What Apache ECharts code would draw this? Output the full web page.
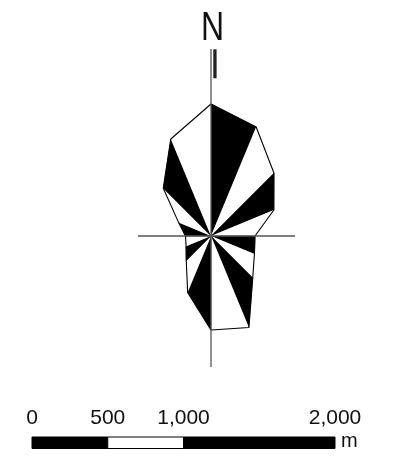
<!DOCTYPE html>
<html><head><meta charset="utf-8">
<style>html,body{margin:0;padding:0;background:#fff}#c{width:405px;height:459px}</style>
<script src="https://cdn.jsdelivr.net/npm/echarts@6/dist/echarts.min.js"></script>
</head><body><div id="c"></div>
<script>
// Rose diagram: direction (degrees clockwise from north) and petal length
const directions = [0, 22.5, 45, 67.5, 90, 112.5, 135, 157.5, 180, 202.5, 225, 247.5, 270, 292.5, 315, 337.5];
const lengths    = [132, 118, 89, 68, 44, 47, 59, 99, 94, 61, 35, 27, 25.5, 35, 67.5, 105];
const sectorColors = ['#000', '#fff'];
// Cross-hair arms: [length, direction]
const crossArms = [[187, 0], [131, 180], [84, 90], [73, 270]];
// Scale bar
const scaleTicks = [0, 500, 1000, 2000];
const scaleTickLabels = ['0', '500', '1,000', '2,000'];
const scaleSegments = [[0, 500], [500, 1000], [1000, 2000]];
const scaleColors = ['#000', '#fff', '#000'];

const chart = echarts.init(document.getElementById('c'), null, {renderer: 'canvas'});
const n = directions.length;
const font = '"Liberation Sans", Arial, sans-serif';

chart.setOption({
  backgroundColor: '#fff',
  animation: false,
  polar: {center: [211, 236], radius: 200},
  angleAxis: {type: 'value', min: 0, max: 360, startAngle: 90, clockwise: true,
    axisLine: {show: false}, axisTick: {show: false}, axisLabel: {show: false}, splitLine: {show: false}},
  radiusAxis: {type: 'value', min: 0, max: 200,
    axisLine: {show: false}, axisTick: {show: false}, axisLabel: {show: false}, splitLine: {show: false}},
  grid: {left: 32, width: 303, top: 437, height: 11.5},
  xAxis: {type: 'value', min: 0, max: 2000, position: 'top',
    axisLine: {show: false}, axisTick: {show: false}, splitLine: {show: false},
    axisLabel: {customValues: scaleTicks,
      formatter: v => scaleTickLabels[scaleTicks.indexOf(v)],
      fontSize: 21, fontFamily: font, color: '#111', verticalAlign: 'middle', margin: 19}},
  yAxis: {type: 'value', min: 0, max: 1, show: false},
  series: [
    {
      type: 'custom', coordinateSystem: 'polar', z: 2,
      data: directions.map((d, i) => [lengths[i], d]),
      renderItem: (params, api) => {
        const i = params.dataIndex, j = (i + 1) % n;
        const c = api.coord([0, directions[i]]);
        const p1 = api.coord([lengths[i], directions[i]]);
        const p2 = api.coord([lengths[j], directions[j]]);
        const col = sectorColors[i % 2];
        return {type: 'polygon', shape: {points: [c, p1, p2]},
          style: {fill: col, stroke: col === '#000' ? '#000' : null, lineWidth: 0.5}};
      }
    },
    {
      type: 'line', coordinateSystem: 'polar', z: 3, symbol: 'none', smooth: false,
      data: directions.map((d, i) => [lengths[i], d]).concat([[lengths[0], 360]]),
      lineStyle: {color: '#000', width: 1.1}
    },
    {
      type: 'custom', coordinateSystem: 'polar', z: 4,
      data: crossArms,
      renderItem: (params, api) => {
        const a = crossArms[params.dataIndex];
        const c = api.coord([0, a[1]]);
        const p = api.coord([a[0], a[1]]);
        return {type: 'line', shape: {x1: c[0], y1: c[1], x2: p[0], y2: p[1]},
          style: {stroke: '#555', lineWidth: 1.3}};
      }
    },
    {
      type: 'custom', coordinateSystem: 'cartesian2d', z: 2,
      data: scaleSegments.map((s, i) => [s[0], s[1], i]),
      encode: {x: [0, 1]},
      renderItem: (params, api) => {
        const s = scaleSegments[params.dataIndex];
        const p0 = api.coord([s[0], 0]);
        const p1 = api.coord([s[1], 1]);
        return {type: 'rect',
          shape: {x: p0[0], y: p1[1], width: p1[0] - p0[0], height: p0[1] - p1[1]},
          style: {fill: scaleColors[params.dataIndex], stroke: '#000', lineWidth: 1}};
      }
    }
  ],
  graphic: [
    {type: 'text', x: 212.5, y: 29, scaleX: 0.8, z: 10,
      style: {text: 'N', font: '40px ' + font, fill: '#111',
        align: 'center', verticalAlign: 'middle', textAlign: 'center', textVerticalAlign: 'middle'}},
    {type: 'rect', z: 10, shape: {x: 213.3, y: 49.3, width: 3.3, height: 29}, style: {fill: '#222'}},
    {type: 'text', x: 341, y: 441, z: 10,
      style: {text: 'm', font: '20px ' + font, fill: '#111',
        align: 'left', verticalAlign: 'middle', textAlign: 'left', textVerticalAlign: 'middle'}}
  ]
});
</script></body></html>
